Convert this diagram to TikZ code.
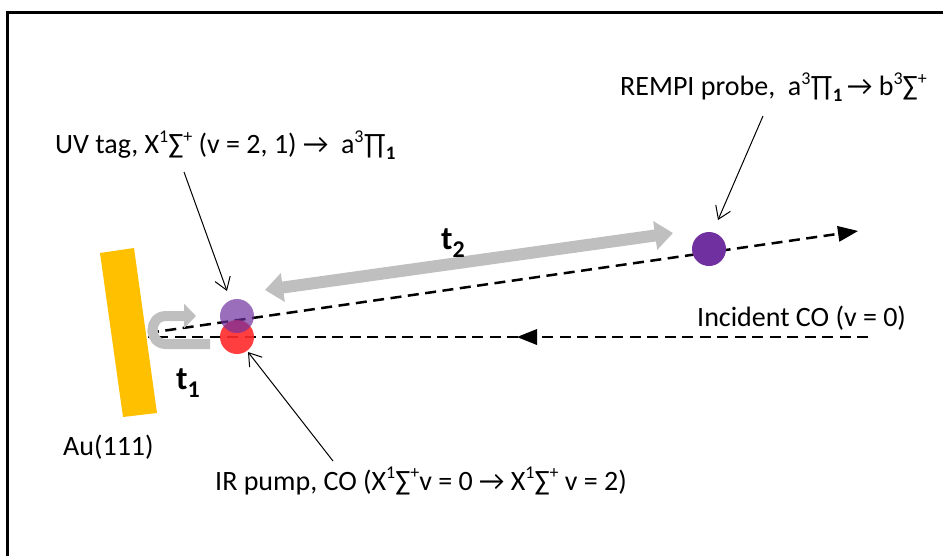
\documentclass[tikz,border=0pt]{standalone}
\usepackage{fontspec}
\setmainfont{Carlito}
\usetikzlibrary{arrows.meta}
\newcommand{\sps}[1]{\raisebox{0.40em}{\fontsize{18}{18}\selectfont #1}}
\newcommand{\sbs}[1]{\raisebox{-0.22em}{\fontsize{19}{19}\selectfont\bfseries #1}}
\newcommand{\tsb}[1]{\raisebox{-0.25em}{\fontsize{24}{24}\selectfont\bfseries #1}}
\definecolor{gold}{HTML}{FFC000}
\definecolor{pur}{HTML}{7030A0}
\definecolor{redc}{HTML}{FF2A2A}
\definecolor{grayarr}{HTML}{BFBFBF}
\tikzset{
  lbl/.style={inner sep=0pt, anchor=west, font=\fontsize{28}{32}\selectfont},
  tlbl/.style={inner sep=0pt, font=\fontsize{33}{35}\selectfont\bfseries},
  beam/.style={line width=2.5pt, dash pattern=on 11pt off 6.5pt},
  pointer/.style={line width=1pt, -{Straight Barb[length=12pt,width=16pt,line width=1pt]}},
  dot/.style={circle, inner sep=0pt, minimum size=34pt},
  grayarrow/.style={draw=grayarr, line width=12pt}
}
\begin{document}
\begin{tikzpicture}[x=1pt,y=-1pt]
\useasboundingbox (0,0) rectangle (943,555);
% frame
\draw[line width=3pt] (7,560) -- (7,12) -- (950,12);
% gold surface
\fill[gold] (100,253) -- (134,248) -- (157,413) -- (123,417) -- cycle;
% coordinates
\coordinate (surfin) at (148,337);
\coordinate (surfout) at (148,333);
\coordinate (incstart) at (868,337);
\coordinate (outend) at (858,231);
\coordinate (midarrow) at (517,337);
% beams
\draw[beam] (incstart) -- (surfin);
\fill (midarrow) -- ++(20,-8) -- ++(0,16) -- cycle;
\draw[beam, -{Triangle[length=20pt,width=16pt,line width=0pt]}] (surfout) -- (outend);
% t1 U-turn arrow
\coordinate (ua) at (210,344);
\coordinate (ub) at (196,316);
\draw[draw=grayarr, line width=10pt, -{Triangle[length=12pt,width=24pt]}]
  (ua) -- (166,344) .. controls (148,344) and (148,316) .. (166,316) -- (ub);
% t2 double arrow
\coordinate (t2a) at (265,290);
\coordinate (t2b) at (673,233);
\draw[grayarrow, {Triangle[length=18pt,width=28pt]}-{Triangle[length=18pt,width=28pt]}] (t2a) -- (t2b);
% dots
\node[dot, fill=redc, opacity=0.9] (pump) at (237,337) {};
\node[dot, fill=pur, opacity=0.7] (tag) at (237,316) {};
\node[dot, fill=pur] (probe) at (709,249) {};
% labels
\node[tlbl, anchor=base west] (t2) at (441,249) {t\tsb{2}};
\node[tlbl, anchor=base west] (t1) at (176,389) {t\tsb{1}};
\node[lbl] (rempi) at (620,87) {REMPI probe,\ \ a\sps{3}∏\sbs{1}\,→ b\sps{3}∑\sps{+}};
\node[lbl] (uv) at (55,145) {UV tag, X\sps{1}∑\sps{+} (v = 2, 1) →\ \ a\sps{3}∏\sbs{1}};
\node[lbl] (ir) at (215,481) {IR pump, CO (X\sps{1}∑\sps{+}v = 0 → X\sps{1}∑\sps{+} v = 2)};
\node[lbl] (inc) at (697,318) {Incident CO (v = 0)};
\node[lbl] (au) at (63,447) {Au(111)};
% pointers
\coordinate (rp) at (763,116);
\coordinate (up) at (184,172);
\coordinate (ip) at (333,461);
\draw[pointer] (rp) -- (718,220);
\draw[pointer] (up) -- (227,291);
\draw[pointer] (ip) -- (248,352);
\end{tikzpicture}
\end{document}
